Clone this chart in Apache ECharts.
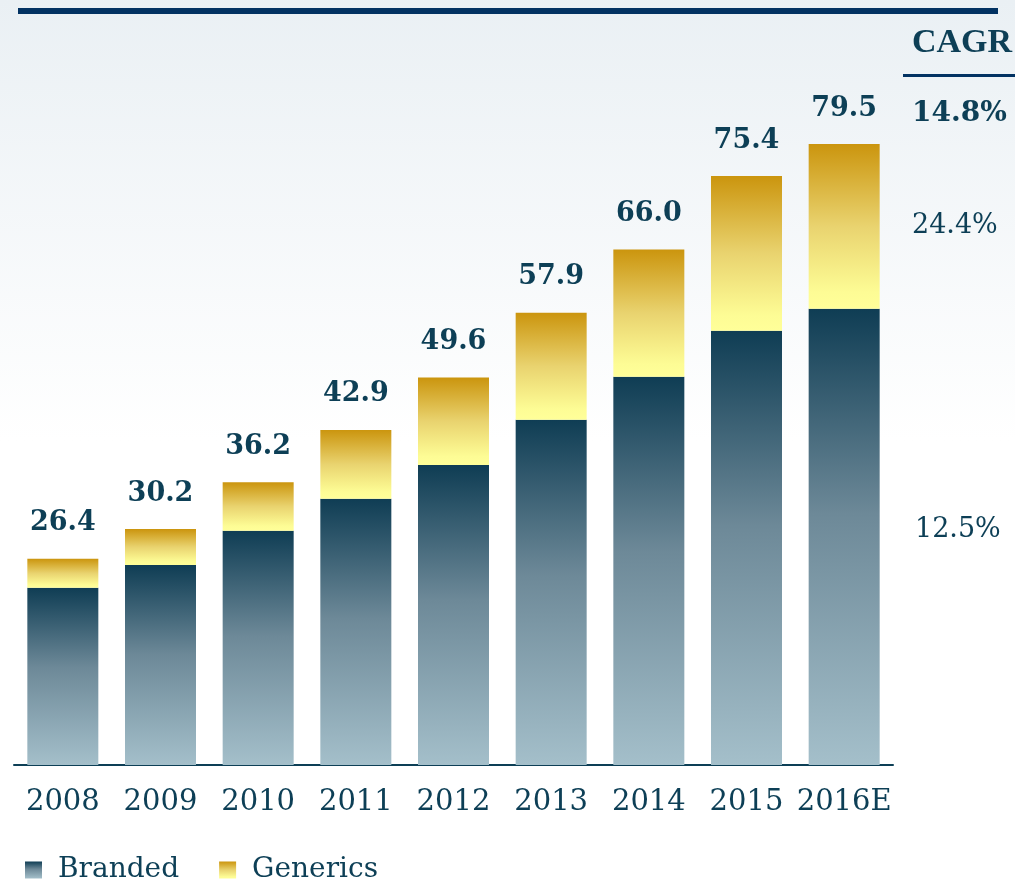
<!DOCTYPE html>
<html>
<head>
<meta charset="utf-8">
<script src="https://cdn.jsdelivr.net/npm/echarts@6/dist/echarts.min.js"></script>
<style>
  html, body { margin: 0; padding: 0; background: #fff; }
  #chart { width: 1015px; height: 882px; }
</style>
</head>
<body>
<div id="chart"></div>
<script>
// values
const years = ['2008', '2009', '2010', '2011', '2012', '2013', '2014', '2015', '2016E']
const branded = [22.7, 25.6, 30.0, 34.1, 38.4, 44.2, 49.7, 55.6, 58.4]
const generics = [3.7, 4.6, 6.2, 8.8, 11.2, 13.7, 16.3, 19.8, 21.1]
const totals = ['26.4', '30.2', '36.2', '42.9', '49.6', '57.9', '66.0', '75.4', '79.5']
const cagrTitle = 'CAGR'
const cagrTotal = '14.8%'
const cagrGenerics = '24.4%'
const cagrBranded = '12.5%'

const navy = '#0d3f56'
const serif = '"DejaVu Serif", Georgia, serif'

const chart = echarts.init(document.getElementById('chart'))

const brandedFill = new echarts.graphic.LinearGradient(0, 0, 0, 1, [
    { offset: 0, color: '#0f3d54' },
    { offset: 0.45, color: '#6d8998' },
    { offset: 1, color: '#a4bfca' }
])
const genericsFill = new echarts.graphic.LinearGradient(0, 0, 0, 1, [
    { offset: 0, color: '#cb950e' },
    { offset: 0.5, color: '#e9d36f' },
    { offset: 0.9, color: '#fdfc95' },
    { offset: 1, color: '#ffff99' }
])

const option = {
    animation: false,
    graphic: [
        {
            type: 'rect', z: -10, silent: true,
            shape: { x: 0, y: 0, width: 1015, height: 882 },
            style: {
                fill: new echarts.graphic.LinearGradient(0, 0, 0, 1, [
                    { offset: 0, color: '#eaf0f4' },
                    { offset: 0.5, color: '#ffffff' },
                    { offset: 1, color: '#ffffff' }
                ])
            }
        },
        { type: 'rect', shape: { x: 18, y: 8, width: 980, height: 6 }, style: { fill: '#023262' } },
        { type: 'rect', shape: { x: 903, y: 74, width: 112, height: 3 }, style: { fill: '#023262' } },
        {
            type: 'text', left: 912, top: 26,
            style: { text: cagrTitle, font: 'bold 34px "Liberation Serif", serif', fill: navy }
        },
        {
            type: 'text', left: 912, top: 100,
            style: { text: cagrTotal, font: 'bold 28px ' + serif, fill: navy }
        },
        {
            type: 'text', left: 912, top: 212,
            style: { text: cagrGenerics, font: '27px ' + serif, fill: navy }
        },
        {
            type: 'text', left: 915, top: 516,
            style: { text: cagrBranded, font: '27px ' + serif, fill: navy }
        }
    ],
    legend: {
        left: 25,
        top: 856,
        padding: 0,
        itemWidth: 17,
        itemHeight: 17,
        itemGap: 40,
        icon: 'rect',
        data: ['Branded', 'Generics'],
        textStyle: { fontFamily: serif, fontSize: 28, color: navy, padding: [0, 0, 0, 11] }
    },
    grid: { left: 14, right: 122, top: 62, bottom: 117 },
    xAxis: {
        type: 'category',
        data: years,
        axisLine: { lineStyle: { color: navy, width: 2 } },
        axisTick: { show: false },
        axisLabel: { interval: 0, fontFamily: serif, fontSize: 29, color: navy, margin: 23 }
    },
    yAxis: {
        type: 'value',
        min: 0,
        max: 90,
        show: false,
        splitLine: { show: false }
    },
    series: [
        {
            name: 'Branded',
            type: 'bar',
            stack: 'all',
            barWidth: 71,
            data: branded,
            itemStyle: { color: brandedFill }
        },
        {
            name: 'Generics',
            type: 'bar',
            stack: 'all',
            barWidth: 71,
            data: generics,
            itemStyle: { color: genericsFill },
            label: {
                show: true,
                position: 'top',
                distance: 22,
                formatter: p => totals[p.dataIndex],
                fontFamily: serif,
                fontWeight: 'bold',
                fontSize: 27,
                color: navy
            }
        }
    ]
}

chart.setOption(option)
</script>
</body>
</html>
